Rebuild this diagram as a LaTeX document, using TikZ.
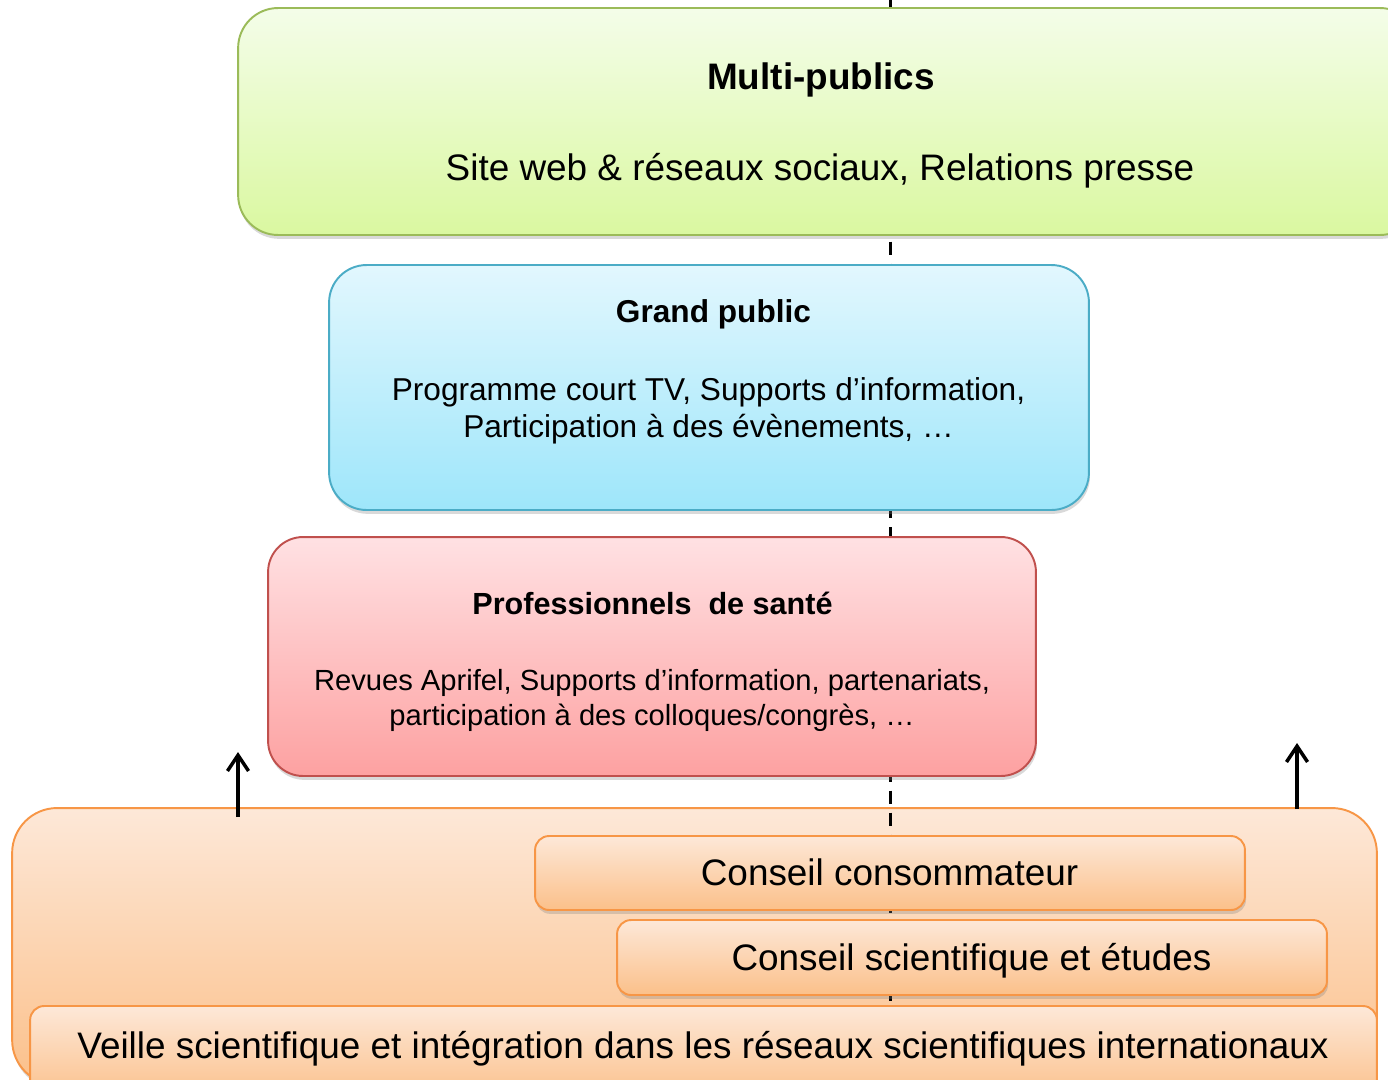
\documentclass[tikz,border=0pt]{standalone}
\usepackage{fontspec}
\setmainfont{Liberation Sans}
\usetikzlibrary{shadows,arrows.meta}

\definecolor{vertHaut}{HTML}{F4FDE9}
\definecolor{vertBas}{HTML}{DAF8A0}
\definecolor{vertBord}{HTML}{9BBB59}
\definecolor{bleuHaut}{HTML}{E2F7FE}
\definecolor{bleuBas}{HTML}{9EE6FA}
\definecolor{bleuBord}{HTML}{4BACC6}
\definecolor{rougeHaut}{HTML}{FFE1E3}
\definecolor{rougeBas}{HTML}{FDA1A1}
\definecolor{rougeBord}{HTML}{C0504D}
\definecolor{orangeHaut}{HTML}{FDE8D8}
\definecolor{orangeBas}{HTML}{FBC08A}
\definecolor{orangeBord}{HTML}{F79646}

\tikzset{
    boite/.style={rectangle, line width=1.1pt, inner sep=0pt, outer sep=0pt,
        drop shadow={shadow xshift=0.6pt, shadow yshift=-2.2pt, opacity=0.3}},
    vert/.style={boite, draw=vertBord, top color=vertHaut, bottom color=vertBas, rounded corners=0.8cm},
    bleu/.style={boite, draw=bleuBord, top color=bleuHaut, bottom color=bleuBas, rounded corners=0.75cm},
    rouge/.style={boite, draw=rougeBord, top color=rougeHaut, bottom color=rougeBas, rounded corners=0.7cm},
    orange/.style={boite, draw=orangeBord, top color=orangeHaut, bottom color=orangeBas},
    grand/.style={anchor=base, inner sep=0pt, font=\fontsize{21}{25}\selectfont},
    moyen/.style={anchor=base, inner sep=0pt, font=\fontsize{18}{22}\selectfont},
    petit/.style={anchor=base, inner sep=0pt, font=\fontsize{16.6}{20}\selectfont},
    fleche/.style={line width=2pt, -{Straight Barb[length=9pt,width=12pt]}}
}

\begin{document}
\begin{tikzpicture}[x=0.02cm,y=-0.02cm]
                \useasboundingbox (0,0) rectangle (1388,1079);

                % Socle orange
                \node[orange, rounded corners=0.9cm, minimum width=27.3cm, minimum height=5.54cm] (socle) at (694.5,946.5) {};

                % Axe pointille
                \coordinate (haut) at (890,0);
                \coordinate (bas) at (890,1006);
                \draw[line width=1.7pt, dash pattern=on 7.4pt off 5.1pt] (haut) -- (bas);

                % Multi-publics
                \node[vert, minimum width=23.64cm, minimum height=4.54cm] (multi) at (829,121.5) {};
                \node[grand] (multiTitre) at (821,89) {\textbf{Multi-publics}};
                \node[grand] (multiTexte) at (820,180) {Site web \& réseaux sociaux, Relations presse};

                % Grand public
                \node[bleu, minimum width=15.2cm, minimum height=4.9cm] (public) at (709,387.5) {};
                \node[moyen] (publicTitre) at (713.5,322) {\textbf{Grand public}};
                \node[moyen] (publicTexteA) at (708.5,400) {Programme court TV, Supports d’information,};
                \node[moyen] (publicTexteB) at (708.5,437) {Participation à des évènements, …};

                % Professionnels de sante
                \node[rouge, minimum width=15.36cm, minimum height=4.78cm] (pro) at (652,656.5) {};
                \node[petit, font=\fontsize{17.4}{21}\selectfont] (proTitre) at (652.5,614) {\textbf{Professionnels\ \ de santé}};
                \node[petit] (proTexteA) at (652,690) {Revues Aprifel, Supports d’information, partenariats,};
                \node[petit] (proTexteB) at (652,725) {participation à des colloques/congrès, …};

                % Conseils et veille
                \node[orange, rounded corners=0.28cm, minimum width=14.2cm, minimum height=1.48cm] (conso) at (890,873) {};
                \node[grand] (consoTexte) at (889.5,885) {Conseil consommateur};
                \node[orange, rounded corners=0.28cm, minimum width=14.2cm, minimum height=1.5cm] (scient) at (972,957.5) {};
                \node[grand] (scientTexte) at (971.5,970) {Conseil scientifique et études};
                \node[orange, rounded corners=0.28cm, minimum width=26.94cm, minimum height=1.88cm] (veille) at (703.5,1053) {};
                \node[grand] (veilleTexte) at (703,1058) {Veille scientifique et intégration dans les réseaux scientifiques internationaux};

                % Fleches
                \coordinate (gauchePied) at (238,817);
                \coordinate (gaucheTete) at (238,752);
                \coordinate (droitePied) at (1297,809);
                \coordinate (droiteTete) at (1297,743);
                \draw[fleche] (gauchePied) -- (gaucheTete);
                \draw[fleche] (droitePied) -- (droiteTete);
\end{tikzpicture}
\end{document}
